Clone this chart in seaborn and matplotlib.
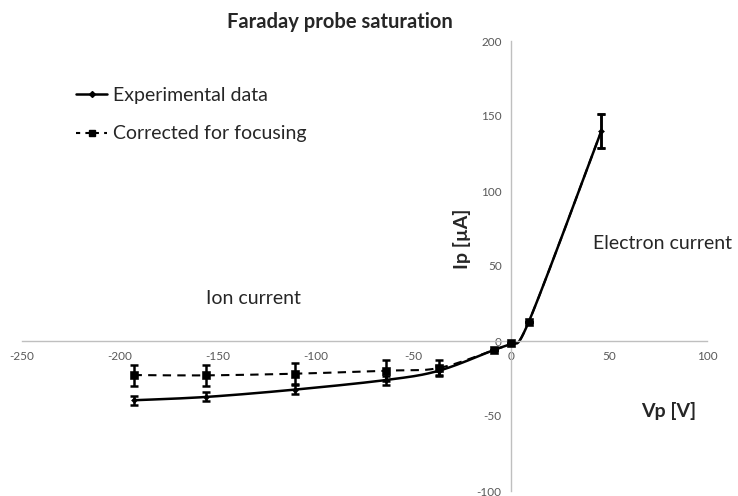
import numpy as np
import matplotlib
matplotlib.use("Agg")
import matplotlib.pyplot as plt
from matplotlib.lines import Line2D
import seaborn as sns

# Probe voltage / current readings
vp_exp = [-193, -156, -110.5, -64, -37, -9, 0, 9, 46]
ip_exp = [-39.5, -37.3, -32.4, -26, -19.8, -6, -1, 13, 140]
err_exp = [3, 3, 3, 3, 3, 0, 0, 0, 11.5]

vp_cor = [-193, -156, -110.5, -64, -37, -9, 0, 9, 46]
ip_cor = [-22.7, -22.9, -21.8, -19.8, -18, -6, -1, 13, 140]
err_cor = [7, 7, 7, 7, 5.5, 0, 0, 0, 11.5]

x_ticks = [-250, -200, -150, -100, -50, 0, 50, 100]
y_ticks = [-100, -50, 0, 50, 100, 150, 200]

sns.set_style("white")
FONT = ["Lato", "DejaVu Sans"]
plt.rcParams["font.family"] = FONT


def smooth(xs, ys, n=30):
    """Cubic Bezier smoothing through the points (Excel-style smoothed line)."""
    p = np.column_stack([xs, ys]).astype(float)
    ext = np.vstack([p[0], p, p[-1]])
    t = np.linspace(0, 1, n)[:, None]
    out = []
    for i in range(len(p) - 1):
        p0, p1, p2, p3 = ext[i], ext[i + 1], ext[i + 2], ext[i + 3]
        c1 = p1 + (p2 - p0) / 6
        c2 = p2 - (p3 - p1) / 6
        seg = ((1 - t) ** 3) * p1 + 3 * ((1 - t) ** 2) * t * c1 + 3 * (1 - t) * t ** 2 * c2 + t ** 3 * p2
        out.append(seg if i == 0 else seg[1:])
    s = np.vstack(out)
    return s[:, 0], s[:, 1]


W, H = 738, 496
fig = plt.figure(figsize=(W / 100, H / 100), dpi=100)
ax = fig.add_axes([22 / W, 5 / H, 685 / W, 450 / H])
ax.set_xlim(-250, 100)
ax.set_ylim(-100, 200)

# curves
cx, cy = smooth(vp_cor, ip_cor)
sns.lineplot(x=cx, y=cy, sort=False, estimator=None, color="black", lw=1.5,
             linestyle=(0, (4, 3)), ax=ax)
sx, sy = smooth(vp_exp, ip_exp)
sns.lineplot(x=sx, y=sy, sort=False, estimator=None, color="black", lw=1.8, ax=ax)

# error bars
ax.errorbar(vp_cor, ip_cor, yerr=err_cor, fmt="none", ecolor="black",
            elinewidth=1.8, capsize=3, capthick=1.8)
ax.errorbar(vp_exp, ip_exp, yerr=err_exp, fmt="none", ecolor="black",
            elinewidth=1.8, capsize=3, capthick=1.8)

# markers
sns.scatterplot(x=vp_cor[:-1], y=ip_cor[:-1], marker="s", s=28, color="black",
                edgecolor="black", ax=ax, zorder=5)
sns.scatterplot(x=vp_exp, y=ip_exp, marker="D", s=10, color="black",
                edgecolor="black", ax=ax, zorder=6)

# axes through the origin
grey = "#BFBFBF"
for side in ["top", "right"]:
    ax.spines[side].set_visible(False)
ax.spines["left"].set_position(("data", 0))
ax.spines["bottom"].set_position(("data", 0))
ax.spines["left"].set_color(grey)
ax.spines["bottom"].set_color(grey)
ax.spines["left"].set_linewidth(1)
ax.spines["bottom"].set_linewidth(1)
ax.set_xticks(x_ticks)
ax.set_yticks(y_ticks)
ax.set_xticklabels([str(v) for v in x_ticks])
ax.set_yticklabels([str(v) for v in y_ticks])
ax.tick_params(axis="x", direction="inout", length=8, width=1, color=grey,
               labelsize=8.5, labelcolor="#595959", pad=3)
ax.tick_params(axis="y", direction="out", length=4, width=1, color=grey,
               labelsize=8.5, labelcolor="#595959", pad=3)
ax.set_xlabel("")
ax.set_ylabel("")
ax.patch.set_alpha(0)

# labels
ax.text(-25, 68, "Ip [µA]", rotation=90, ha="center", va="center",
        fontsize=14, fontweight="bold", family=FONT)
ax.text(80.6, -46.7, "Vp [V]", ha="center", va="center",
        fontsize=14, fontweight="bold", family=FONT)
ax.text(-131.6, 28, "Ion current", ha="center", va="center", fontsize=14, family=FONT)
ax.text(42, 64.7, "Electron current", ha="left", va="center", fontsize=14, family=FONT)
fig.text(340 / W, 1 - 22 / H, "Faraday probe saturation", ha="center", va="center",
         fontsize=14.5, fontweight="bold", family=FONT)

# legend
handles = [
    Line2D([], [], color="black", lw=1.8, marker="D", markersize=3),
    Line2D([], [], color="black", lw=1.5, linestyle=(0, (2, 2.5)), marker="s", markersize=5),
]
leg = fig.legend(handles, ["Experimental data", "Corrected for focusing"],
                 loc="upper left", bbox_to_anchor=(76 / W, 1 - 87 / H),
                 frameon=False, fontsize=14, handlelength=1.6, handletextpad=0.3,
                 labelspacing=1.1, borderaxespad=0, borderpad=0)

fig.savefig("out.png", dpi=100)
